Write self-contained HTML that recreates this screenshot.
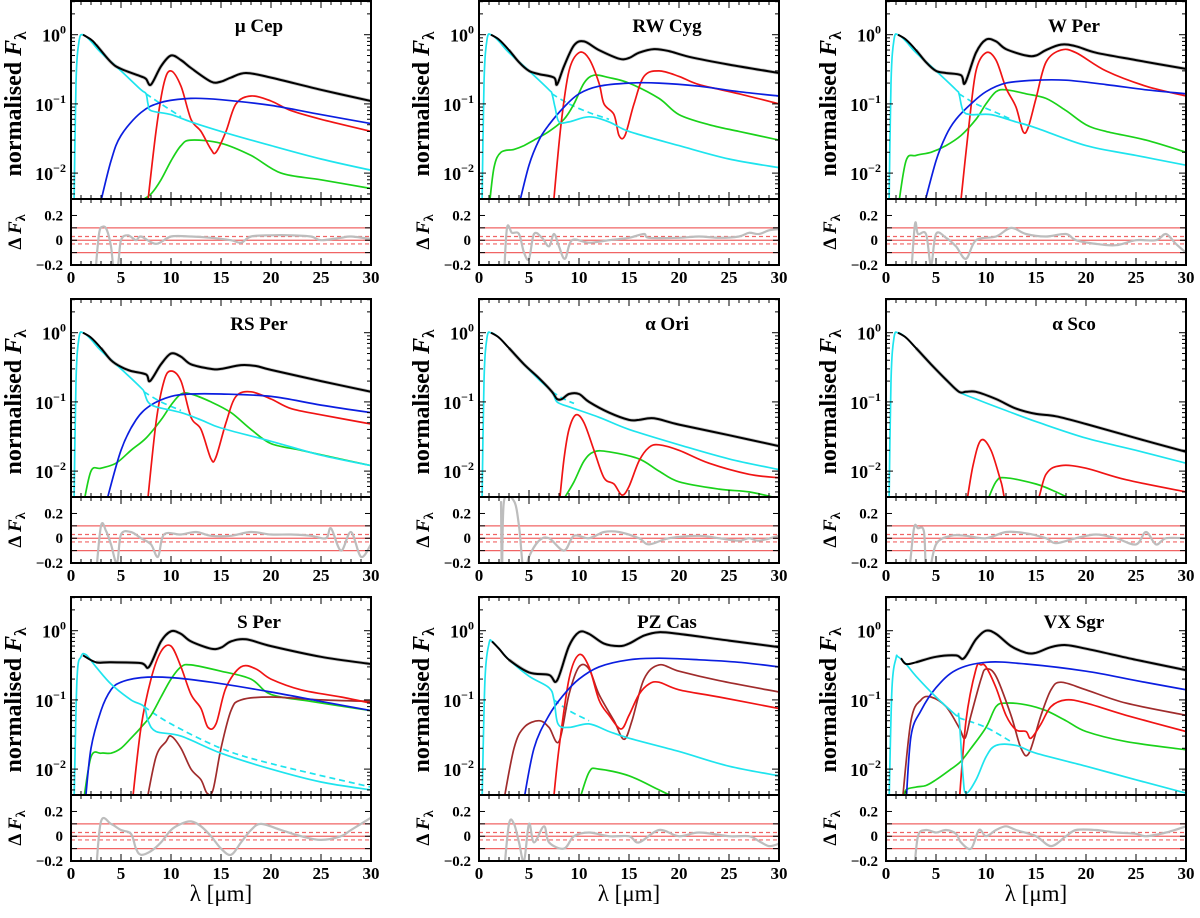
<!DOCTYPE html>
<html><head><meta charset="utf-8"><style>
body{margin:0;background:#fff}
svg{display:block;font-family:"Liberation Serif",serif;font-weight:bold}
</style></head><body>
<svg id="fig" width="1200" height="918" viewBox="0 0 1200 918" xmlns="http://www.w3.org/2000/svg"></svg>
<script>
// ---- data: [wavelength (micron), normalised flux] ----
const titles=["\u03bc Cep","RW Cyg","W Per","RS Per","\u03b1 Ori","\u03b1 Sco","S Per","PZ Cas","VX Sgr"];
const xTicks=[0,5,10,15,20,25,30];
const resTicks=["0.2","0","\u22120.2"];
const resTickVals=[0.2,0,-0.2];
const refLines=[0.1,0,-0.1];
const refDashed=[0.03,-0.03];

const p1Black=[[1.2,1.0],[2,0.85],[2.5,0.72],[4,0.4],[5,0.32],[7,0.25],[7.5,0.23],[8,0.19],[9,0.35],[10,0.5],[11,0.43],[12,0.33],[14,0.21],[15,0.21],[16,0.24],[17.5,0.28],[20,0.24],[25,0.16],[30,0.11]];
const p1Cyan=[[0.3,0.003],[0.5,0.2],[0.8,0.8],[1.2,1.0],[2,0.8],[3,0.55],[5,0.3],[7,0.16],[7.5,0.14],[7.7,0.1],[8,0.08],[10,0.07],[12,0.055],[15,0.04],[20,0.025],[25,0.016],[30,0.011]];
const p1CyanD=[[7.5,0.14],[9,0.1],[11,0.065]];
const p1Blue=[[2.8,0.003],[4,0.015],[5,0.035],[7,0.075],[9,0.105],[12,0.12],[15,0.115],[20,0.095],[25,0.07],[30,0.052]];
const p1Red=[[7.6,0.003],[8.5,0.04],[9.3,0.2],[10,0.3],[11,0.18],[12,0.06],[13,0.04],[14,0.022],[14.5,0.02],[15.5,0.04],[16.5,0.1],[18,0.13],[20,0.11],[22,0.08],[25,0.06],[30,0.04]];
const p1Green=[[7,0.004],[8,0.005],[9,0.008],[10,0.015],[11,0.025],[12,0.03],[15,0.027],[18,0.018],[21,0.01],[25,0.008],[30,0.006]];
const p1Brown=[];
const p1Res=[[2.4,-0.3],[2.8,0.05],[3.2,0.11],[3.6,0.08],[4,-0.05],[4.3,-0.25],[4.7,-0.2],[5,0.0],[5.7,0.04],[6.5,0.0],[7,0.03],[8.5,-0.03],[10,0.03],[12,0.03],[14,0.02],[16,0.0],[17,-0.02],[18,0.03],[20,0.04],[22,0.04],[24,0.03],[25,0.0],[27,0.02],[28,0.03],[30,0.01]];

const p2Black=[[1.2,1.0],[2,0.85],[3,0.6],[4,0.4],[5,0.3],[6,0.27],[7.5,0.24],[7.8,0.19],[8.5,0.35],[9.5,0.7],[10.5,0.8],[12,0.6],[14,0.45],[15,0.46],[16,0.55],[17.5,0.62],[19,0.58],[21,0.48],[25,0.37],[30,0.28]];
const p2Cyan=[[0.3,0.003],[0.5,0.2],[0.8,0.85],[1.2,1.0],[2,0.8],[3,0.55],[5,0.3],[7,0.16],[7.3,0.14],[7.6,0.09],[8,0.055],[9,0.055],[11,0.065],[13,0.055],[15,0.04],[20,0.025],[25,0.016],[30,0.012]];
const p2CyanD=[[7.3,0.14],[9,0.1],[11,0.075],[13,0.06]];
const p2Blue=[[3.9,0.003],[5,0.013],[6,0.03],[7,0.05],[8.5,0.09],[10,0.14],[12,0.18],[15,0.2],[18,0.2],[22,0.18],[26,0.15],[30,0.13]];
const p2Red=[[7.4,0.003],[8.2,0.05],[9,0.3],[10,0.55],[11,0.45],[12,0.2],[12.5,0.1],[13.5,0.07],[14,0.035],[14.6,0.035],[15.5,0.1],[16.5,0.25],[18,0.3],[20,0.25],[22,0.19],[26,0.14],[30,0.1]];
const p2Green=[[1,0.003],[1.5,0.012],[2.2,0.02],[3.5,0.022],[4.5,0.025],[5.5,0.03],[7,0.04],[8.5,0.06],[9.5,0.1],[10.5,0.2],[11.5,0.26],[13,0.24],[15,0.2],[18,0.12],[20,0.07],[23,0.05],[26,0.04],[30,0.03]];
const p2Brown=[];
const p2Res=[[2.5,-0.3],[2.8,0.1],[3.3,0.06],[4,0.05],[4.5,-0.1],[5,-0.15],[5.5,0.05],[6.3,0.02],[7,-0.05],[7.5,0.05],[8,-0.05],[8.6,-0.15],[9.3,0.0],[11,-0.02],[13,0.0],[15,0.02],[16.5,0.05],[17,0.02],[20,0.02],[22,0.03],[24,0.02],[26,0.03],[27,0.06],[28,0.05],[29,0.08],[30,0.09]];

const p3Black=[[1.2,1.0],[2,0.85],[3,0.6],[4,0.4],[5,0.3],[6,0.28],[7.5,0.26],[7.9,0.2],[9,0.55],[10,0.85],[11,0.8],[12,0.62],[14,0.5],[15,0.5],[16,0.6],[17.5,0.72],[19,0.68],[21,0.55],[25,0.43],[30,0.32]];
const p3Cyan=[[0.3,0.003],[0.5,0.2],[0.8,0.85],[1.2,1.0],[2,0.8],[3,0.55],[5,0.3],[7,0.16],[7.3,0.14],[7.7,0.08],[8.5,0.07],[10.5,0.07],[13,0.055],[15,0.045],[20,0.025],[25,0.018],[30,0.013]];
const p3CyanD=[[7.3,0.14],[9,0.1],[11,0.075],[12.5,0.06]];
const p3Blue=[[3.7,0.003],[5,0.015],[6,0.035],[7,0.06],[8.5,0.1],[10,0.15],[12,0.2],[15,0.22],[18,0.22],[22,0.19],[26,0.16],[30,0.14]];
const p3Red=[[7.4,0.003],[8.3,0.05],[9,0.3],[10,0.55],[11,0.43],[12,0.17],[13,0.09],[13.7,0.04],[14.2,0.045],[15,0.12],[16,0.4],[17.5,0.6],[19,0.55],[22,0.3],[26,0.18],[30,0.13]];
const p3Green=[[1.2,0.003],[2,0.015],[3,0.018],[4.5,0.02],[6,0.025],[7.5,0.035],[9,0.06],[10,0.1],[11,0.15],[12,0.16],[14,0.14],[16,0.12],[18,0.08],[20,0.05],[22,0.04],[26,0.03],[30,0.02]];
const p3Brown=[];
const p3Res=[[2.5,-0.3],[2.9,0.13],[3.2,0.05],[4,0.05],[4.5,-0.2],[5,0.05],[6,0.02],[7,-0.05],[8,-0.15],[9,0.0],[11,0.03],[12.5,0.1],[14,0.05],[16,0.03],[18,0.05],[19,0.0],[21,-0.03],[23,-0.04],[25,0.0],[27,0.0],[28,0.05],[29,-0.03],[30,-0.1]];

const p4Black=[[1.2,1.0],[2,0.85],[3,0.6],[4,0.4],[5,0.32],[6,0.28],[7.5,0.25],[7.9,0.2],[9,0.35],[10,0.5],[11,0.45],[12,0.35],[14,0.3],[15,0.3],[17,0.34],[18.5,0.33],[20,0.29],[25,0.2],[30,0.14]];
const p4Cyan=[[0.3,0.003],[0.5,0.2],[0.8,0.85],[1.2,1.0],[2,0.8],[3,0.55],[5,0.3],[7,0.16],[7.3,0.14],[7.7,0.1],[8.5,0.085],[11,0.07],[13,0.055],[15,0.042],[20,0.027],[25,0.017],[30,0.012]];
const p4CyanD=[[7.3,0.14],[9,0.1],[11,0.075]];
const p4Blue=[[3.4,0.003],[5,0.02],[6.5,0.055],[8,0.09],[10,0.12],[12,0.13],[15,0.13],[20,0.12],[25,0.09],[30,0.07]];
const p4Red=[[7.6,0.003],[8.5,0.05],[9.3,0.2],[10,0.28],[11,0.2],[12,0.06],[13,0.04],[14,0.015],[14.5,0.016],[15.5,0.05],[16.5,0.12],[18,0.14],[20,0.11],[22,0.08],[25,0.065],[30,0.048]];
const p4Green=[[1.2,0.003],[2,0.01],[3,0.011],[4.5,0.013],[6,0.02],[7.5,0.03],[9,0.055],[10,0.09],[11,0.13],[12,0.13],[14,0.1],[16,0.07],[18,0.04],[20,0.025],[23,0.02],[26,0.016],[30,0.012]];
const p4Brown=[];
const p4Res=[[2.5,-0.3],[3,0.1],[3.5,0.06],[4,-0.05],[4.6,-0.2],[5,0.03],[6,0.05],[7,0.0],[8,-0.05],[8.7,-0.15],[9.3,0.03],[11,0.03],[12.5,0.05],[14,0.02],[16,0.02],[18,0.05],[20,0.03],[22,0.03],[24,0.02],[25.5,0.0],[26,0.08],[27,-0.1],[28,0.05],[29,-0.15],[30,-0.05]];

const p5Black=[[1.2,1.0],[2,0.85],[3,0.6],[4.5,0.35],[6,0.22],[7.3,0.14],[7.8,0.11],[8.3,0.11],[9,0.13],[10,0.13],[11,0.1],[13,0.07],[15,0.055],[16,0.055],[17.5,0.058],[20,0.047],[25,0.033],[30,0.023]];
const p5Cyan=[[0.3,0.003],[0.5,0.2],[0.8,0.85],[1.2,1.0],[2,0.85],[3,0.6],[4.5,0.35],[6,0.21],[7.3,0.14],[7.8,0.1],[9,0.085],[12,0.06],[15,0.04],[20,0.024],[25,0.015],[30,0.0105]];
const p5CyanD=[[7.3,0.14],[8.5,0.11],[9.5,0.095]];
const p5Blue=[];
const p5Red=[[8,0.003],[8.5,0.015],[9,0.04],[9.7,0.065],[10.5,0.05],[11.5,0.02],[12.5,0.008],[13.5,0.0065],[14.3,0.0045],[15,0.006],[16,0.014],[17,0.022],[18,0.024],[20,0.02],[23,0.013],[27,0.009],[30,0.008]];
const p5Green=[[8.5,0.004],[9.5,0.007],[10.5,0.014],[11.5,0.019],[13,0.019],[16,0.015],[18,0.01],[20,0.007],[24,0.0055],[27,0.005],[30,0.004]];
const p5Brown=[];
const p5Res=[[2.2,0.3],[2.3,-0.3],[2.5,0.3],[3.5,0.3],[4,0.1],[4.5,-0.3],[5,-0.15],[6,-0.02],[7,0.0],[8.5,-0.1],[9.5,0.02],[11,0.0],[12.5,0.05],[14,0.05],[16,0.0],[17,-0.05],[19,0.0],[22,0.02],[24,0.0],[26,-0.02],[27,0.0],[28,-0.02],[30,0.02]];

const p6Black=[[1.2,1.0],[2,0.85],[3,0.6],[4.5,0.35],[6,0.21],[7.3,0.14],[8,0.14],[9,0.14],[11,0.11],[13,0.08],[15,0.067],[17,0.062],[20,0.048],[25,0.03],[30,0.019]];
const p6Cyan=[[0.3,0.003],[0.5,0.2],[0.8,0.85],[1.2,1.0],[2,0.85],[3,0.6],[4.5,0.35],[6,0.21],[7.3,0.14],[9,0.11],[12,0.075],[15,0.052],[20,0.03],[25,0.02],[30,0.013]];
const p6CyanD=[];
const p6Blue=[];
const p6Red=[[8,0.003],[8.7,0.012],[9.5,0.028],[10.5,0.02],[11.5,0.007],[12.3,0.003],[14.8,0.003],[16,0.009],[17.5,0.012],[20,0.011],[24,0.0075],[30,0.005]];
const p6Green=[[9.9,0.003],[11,0.007],[12,0.008],[15,0.0065],[17,0.005],[19.2,0.0035]];
const p6Brown=[];
const p6Res=[[2.3,-0.3],[2.8,0.08],[3.2,0.08],[3.8,0.05],[4,-0.3],[4.3,-0.3],[5,-0.05],[6.5,0.02],[8,0.02],[10,0.0],[12,0.05],[14,0.04],[16,0.0],[17,-0.04],[19,0.0],[21,0.03],[23,0.0],[25,-0.05],[26,0.05],[27,-0.05],[28,0.0],[30,0.0]];

const p7Black=[[1.2,0.44],[2.5,0.35],[4,0.35],[7,0.34],[7.8,0.3],[9,0.7],[10,0.98],[11,0.9],[12,0.7],[14,0.55],[15,0.57],[16,0.7],[17.5,0.75],[20,0.6],[25,0.42],[30,0.33]];
const p7Cyan=[[0.3,0.003],[0.6,0.2],[1,0.42],[1.5,0.45],[2.5,0.3],[4,0.17],[6,0.1],[7.3,0.08],[7.7,0.05],[8.5,0.035],[11,0.03],[15,0.017],[20,0.01],[25,0.0065],[30,0.005]];
const p7CyanD=[[7.3,0.08],[10,0.045],[15,0.02],[20,0.012],[30,0.0055]];
const p7Blue=[[1.4,0.003],[2,0.02],[3,0.07],[4,0.14],[5,0.18],[7,0.21],[10,0.21],[14,0.18],[20,0.13],[25,0.095],[30,0.07]];
const p7Red=[[6.1,0.003],[7,0.04],[8,0.2],[9,0.5],[10,0.6],[11,0.3],[12,0.12],[13,0.075],[13.7,0.04],[14.5,0.045],[15.5,0.15],[17,0.3],[18.5,0.28],[20,0.2],[23,0.14],[27,0.11],[30,0.09]];
const p7Green=[[1.2,0.003],[2,0.015],[3,0.017],[4,0.017],[5,0.02],[6,0.028],[7,0.04],[8,0.06],[9,0.11],[10,0.2],[11,0.3],[12,0.32],[15,0.26],[18,0.2],[20,0.12],[24,0.095],[30,0.07]];
const p7Brown=[[7.5,0.003],[8.5,0.015],[9.5,0.025],[10,0.03],[11,0.02],[12,0.01],[13,0.007],[13.6,0.0045],[14.2,0.005],[15,0.02],[16,0.07],[17,0.1],[20,0.11],[25,0.1],[30,0.095]];
const p7Res=[[2.5,-0.3],[3,0.12],[4,0.1],[5,0.05],[6,0.02],[6.5,-0.1],[7,-0.15],[8,-0.12],[9,-0.05],[10,0.05],[11,0.1],[12,0.12],[13,0.08],[14,0.0],[15,-0.1],[16,-0.15],[17,-0.05],[18,0.05],[19,0.1],[21,0.05],[23,0.0],[25,-0.03],[27,0.0],[28,0.05],[30,0.15]];

const p8Black=[[1.3,0.7],[2,0.55],[3,0.38],[5,0.25],[7,0.23],[7.8,0.19],[9,0.6],[10,0.95],[11,0.9],[12.5,0.65],[14,0.6],[15,0.65],[16.5,0.85],[18,0.95],[20,0.9],[25,0.72],[30,0.58]];
const p8Cyan=[[0.3,0.003],[0.6,0.2],[1,0.65],[1.3,0.7],[2,0.55],[3,0.38],[5,0.22],[7,0.15],[7.5,0.1],[7.9,0.045],[9,0.04],[11,0.045],[13,0.035],[15,0.028],[20,0.018],[25,0.011],[30,0.008]];
const p8CyanD=[[7.5,0.1],[9,0.07],[11,0.05]];
const p8Blue=[[4.4,0.003],[5.5,0.02],[7,0.06],[8.5,0.12],[10,0.2],[12,0.3],[15,0.38],[18,0.4],[22,0.38],[26,0.35],[30,0.3]];
const p8Red=[[7.4,0.003],[8,0.02],[9,0.2],[10,0.45],[11,0.3],[12,0.1],[13,0.06],[14.2,0.038],[15,0.06],[16,0.12],[17,0.17],[18,0.18],[20,0.14],[24,0.11],[30,0.075]];
const p8Green=[[9.9,0.003],[11,0.009],[12,0.01],[15,0.008],[18,0.005],[20.2,0.0035]];
const p8Brown=[[2.4,0.003],[3.5,0.02],[4.5,0.04],[6,0.05],[7,0.04],[8,0.025],[9,0.12],[10,0.3],[11,0.28],[12,0.12],[13.5,0.05],[14.5,0.027],[15.3,0.05],[16.5,0.2],[18,0.32],[20,0.26],[24,0.19],[30,0.13]];
const p8Res=[[2.5,-0.3],[3,0.1],[3.5,0.1],[4,-0.05],[4.5,-0.2],[5,0.1],[5.5,-0.05],[6.5,0.08],[7,-0.05],[8.5,-0.1],[9.5,0.0],[11,0.03],[13,0.0],[15,0.0],[16,-0.05],[18,0.05],[20,0.0],[22,0.03],[25,0.0],[27,0.0],[28,-0.04],[29,-0.08],[30,-0.06]];

const p9Black=[[1.5,0.4],[2,0.33],[3,0.35],[5,0.42],[7,0.44],[7.8,0.4],[9,0.75],[10,1.0],[11,0.9],[12.5,0.6],[14,0.48],[15,0.48],[16.5,0.58],[18,0.62],[20,0.55],[25,0.38],[30,0.27]];
const p9Cyan=[[0.3,0.003],[0.6,0.15],[1,0.4],[1.2,0.42],[2,0.33],[3,0.22],[5,0.11],[7,0.06],[7.3,0.055],[7.7,0.008],[8,0.0045],[9,0.007],[10,0.015],[11,0.022],[13,0.022],[15,0.017],[20,0.011],[25,0.007],[30,0.0045]];
const p9CyanD=[[7.3,0.055],[10,0.04],[12.5,0.025]];
const p9Blue=[[2,0.003],[2.5,0.03],[3.5,0.07],[5,0.15],[7,0.27],[10,0.35],[14,0.33],[20,0.26],[25,0.19],[30,0.14]];
const p9Red=[[7.3,0.003],[8,0.05],[9,0.28],[9.5,0.32],[10,0.3],[11,0.15],[12,0.06],[13,0.037],[14,0.035],[14.5,0.028],[15.5,0.045],[16.5,0.08],[18,0.1],[20,0.09],[24,0.06],[30,0.035]];
const p9Green=[[1.7,0.0035],[2,0.005],[3,0.0055],[4,0.0058],[5,0.007],[6.5,0.01],[7.5,0.013],[8.5,0.02],[10,0.04],[11,0.08],[12,0.09],[14,0.085],[16,0.07],[18,0.05],[20,0.035],[24,0.025],[30,0.019]];
const p9Brown=[[1.6,0.003],[2.5,0.05],[3.5,0.1],[4.5,0.11],[6,0.08],[7.3,0.04],[7.9,0.028],[8.5,0.06],[9.5,0.2],[10,0.28],[11,0.22],[12.5,0.06],[13.5,0.02],[14.3,0.017],[15.5,0.06],[16.5,0.14],[17.5,0.18],[20,0.14],[24,0.09],[30,0.06]];
const p9Res=[[2.8,-0.3],[3.2,0.0],[4,0.05],[5,0.03],[6,0.05],[7,0.02],[7.5,-0.05],[8.5,-0.1],[9.3,0.05],[10,0.0],[11,0.05],[12,0.08],[13,0.05],[15,0.0],[16.5,-0.08],[18,0.0],[19,0.05],[21,0.05],[23,0.03],[25,0.02],[26,0.0],[28,0.03],[30,0.08]];

const panels=[
 [p1Black,p1Cyan,p1CyanD,p1Blue,p1Red,p1Green,p1Brown,p1Res],
 [p2Black,p2Cyan,p2CyanD,p2Blue,p2Red,p2Green,p2Brown,p2Res],
 [p3Black,p3Cyan,p3CyanD,p3Blue,p3Red,p3Green,p3Brown,p3Res],
 [p4Black,p4Cyan,p4CyanD,p4Blue,p4Red,p4Green,p4Brown,p4Res],
 [p5Black,p5Cyan,p5CyanD,p5Blue,p5Red,p5Green,p5Brown,p5Res],
 [p6Black,p6Cyan,p6CyanD,p6Blue,p6Red,p6Green,p6Brown,p6Res],
 [p7Black,p7Cyan,p7CyanD,p7Blue,p7Red,p7Green,p7Brown,p7Res],
 [p8Black,p8Cyan,p8CyanD,p8Blue,p8Red,p8Green,p8Brown,p8Res],
 [p9Black,p9Cyan,p9CyanD,p9Blue,p9Red,p9Green,p9Brown,p9Res]];

// ---- layout ----
const NS="http://www.w3.org/2000/svg";
const svg=document.getElementById('fig');
const colL=[71,479,886], rowT=[1,299,597], W=300, MH=198, RH=66;
const LOGTOP=0.487, DEC=69.2;
const RTOP=0.333, RBOT=-0.2;
function mk(tag,attrs,parent){const e=document.createElementNS(NS,tag);for(const k in attrs)e.setAttribute(k,attrs[k]);(parent||svg).appendChild(e);return e;}
function pathFrom(pts,fx,fy){
  const P=pts.map(p=>[fx(p[0]),fy(p[1])]);
  if(P.length<2)return "";
  let d="M"+P[0][0].toFixed(1)+","+P[0][1].toFixed(1);
  for(let i=0;i<P.length-1;i++){
    const p0=P[Math.max(0,i-1)],p1=P[i],p2=P[i+1],p3=P[Math.min(P.length-1,i+2)];
    const c1=[p1[0]+(p2[0]-p0[0])/6,p1[1]+(p2[1]-p0[1])/6];
    const c2=[p2[0]-(p3[0]-p1[0])/6,p2[1]-(p3[1]-p1[1])/6];
    d+="C"+c1[0].toFixed(1)+","+c1[1].toFixed(1)+" "+c2[0].toFixed(1)+","+c2[1].toFixed(1)+" "+p2[0].toFixed(1)+","+p2[1].toFixed(1);
  }
  return d;
}
const colors={black:"#000",cyan:"#1ee4ee",cyanD:"#1ee4ee",blue:"#0b1ee0",red:"#f01414",green:"#1ad21a",brown:"#a02c2c"};

for(let pi=0;pi<9;pi++){
  const L=colL[pi%3], T=rowT[Math.floor(pi/3)];
  const [blk,cy,cyd,bl,rd,gr,br,res]=panels[pi];
  const fx=x=>L+x/30*W;
  const fy=v=>T+(LOGTOP-Math.log10(Math.max(v,1e-6)))*DEC;
  const RT=T+MH;
  const fr=v=>RT+(RTOP-v)/(RTOP-RBOT)*RH;
  const g=mk('g',{});
  
  
  const cmp=mk('clipPath',{id:'cm'+pi},g);mk('rect',{x:L,y:T,width:W,height:MH},cmp);
  const cr=mk('clipPath',{id:'cr'+pi},g);mk('rect',{x:L,y:RT,width:W,height:RH},cr);
  const obs=blk.filter(p=>p[0]>=2.3);
  const go=mk('path',{d:pathFrom(obs,fx,fy),fill:'none',stroke:'#c4c4c4','stroke-width':3.5,'clip-path':'url(#cm'+pi+')'},g);
  
  
  const series=[[cyd,'cyanD','stellar-dashed'],[gr,'green','green-component'],[br,'brown','brown-component'],[rd,'red','red-component'],[bl,'blue','blue-component'],[cy,'cyan','stellar-component'],[blk,'black','total-model']];
  for(const [arr,c,nm] of series){
    if(!arr.length)continue;
    const p=mk('path',{d:pathFrom(arr,fx,fy),fill:'none',stroke:colors[c],'stroke-width':c==='black'?2:1.7,'clip-path':'url(#cm'+pi+')'},g);
    if(c==='cyanD')p.setAttribute('stroke-dasharray','6,4');
    
    
  }
  for(const v of refLines){const l=mk('line',{x1:L,x2:L+W,y1:fr(v),y2:fr(v),stroke:'#f06464','stroke-width':1.2},g);}
  for(const v of refDashed){const l=mk('line',{x1:L,x2:L+W,y1:fr(v),y2:fr(v),stroke:'#f06464','stroke-width':1.2,'stroke-dasharray':'4,3'},g);}
  const rp=mk('path',{d:pathFrom(res,fx,fr),fill:'none',stroke:'#bdbdbd','stroke-width':2.2,'clip-path':'url(#cr'+pi+')'},g);
  
  
  mk('rect',{x:L,y:T,width:W,height:MH,fill:'none',stroke:'#000','stroke-width':2},g);
  mk('rect',{x:L,y:RT,width:W,height:RH,fill:'none',stroke:'#000','stroke-width':2},g);
  for(let x=0;x<=30;x++){
    const len=x%5===0?7:4;
    for(const [y0,dir] of [[T,1],[RT,-1],[RT,1],[RT+RH,-1]])
      mk('line',{x1:fx(x),x2:fx(x),y1:y0,y2:y0+dir*len,stroke:'#000','stroke-width':1},g);
  }
  for(const x of xTicks){const t=mk('text',{x:fx(x),y:RT+RH+18,'text-anchor':'middle','font-size':17},g);t.textContent=x;}
  for(let d=-3;d<=0;d++)for(let m=1;m<=9;m++){
    const v=m*Math.pow(10,d), y=fy(v);
    if(y<T||y>T+MH)continue;
    const len=m===1?7:4;
    mk('line',{x1:L,x2:L+len,y1:y,y2:y,stroke:'#000','stroke-width':1},g);
    mk('line',{x1:L+W,x2:L+W-len,y1:y,y2:y,stroke:'#000','stroke-width':1},g);
  }
  for(const d of [0,-1,-2]){
    const t=mk('text',{x:L-5,y:fy(Math.pow(10,d))+7,'text-anchor':'end','font-size':18},g);
    
    const a=document.createElementNS(NS,'tspan');a.textContent='10';t.appendChild(a);
    const b=document.createElementNS(NS,'tspan');b.setAttribute('dy','-8');b.setAttribute('font-size','12');b.textContent=d===0?'0':'\u2212'+(-d);t.appendChild(b);
  }
  for(let v=-0.2;v<=0.3;v+=0.1){mk('line',{x1:L,x2:L+6,y1:fr(v),y2:fr(v),stroke:'#000'},g);mk('line',{x1:L+W,x2:L+W-6,y1:fr(v),y2:fr(v),stroke:'#000'},g);}
  resTickVals.forEach((v,i)=>{const t=mk('text',{x:L-8,y:fr(v)+5,'text-anchor':'end','font-size':15},g);t.textContent=resTicks[i];});
  const yt=mk('text',{transform:`translate(${L-50},${T+MH/2+4}) rotate(-90)`,'text-anchor':'middle','font-size':24},g);
  
  yt.innerHTML='normalised <tspan font-style="italic">F</tspan><tspan dy="5" font-size="17" font-style="normal">\u03bb</tspan>';
  const rt=mk('text',{transform:`translate(${L-50},${RT+RH/2}) rotate(-90)`,'text-anchor':'middle','font-size':19},g);
  
  rt.innerHTML='\u0394 <tspan font-style="italic">F</tspan><tspan dy="4" font-size="14" font-style="normal">\u03bb</tspan>';
  const tt=mk('text',{x:L+188,y:T+31,'text-anchor':'middle','font-size':19},g);
  tt.textContent=titles[pi];
}
for(let c=0;c<3;c++){
  const t=mk('text',{x:colL[c]+W/2,y:901,'text-anchor':'middle','font-size':23,'font-weight':'normal'});
  t.textContent='\u03bb [\u03bcm]';
  
  
}
</script>
</body></html>
